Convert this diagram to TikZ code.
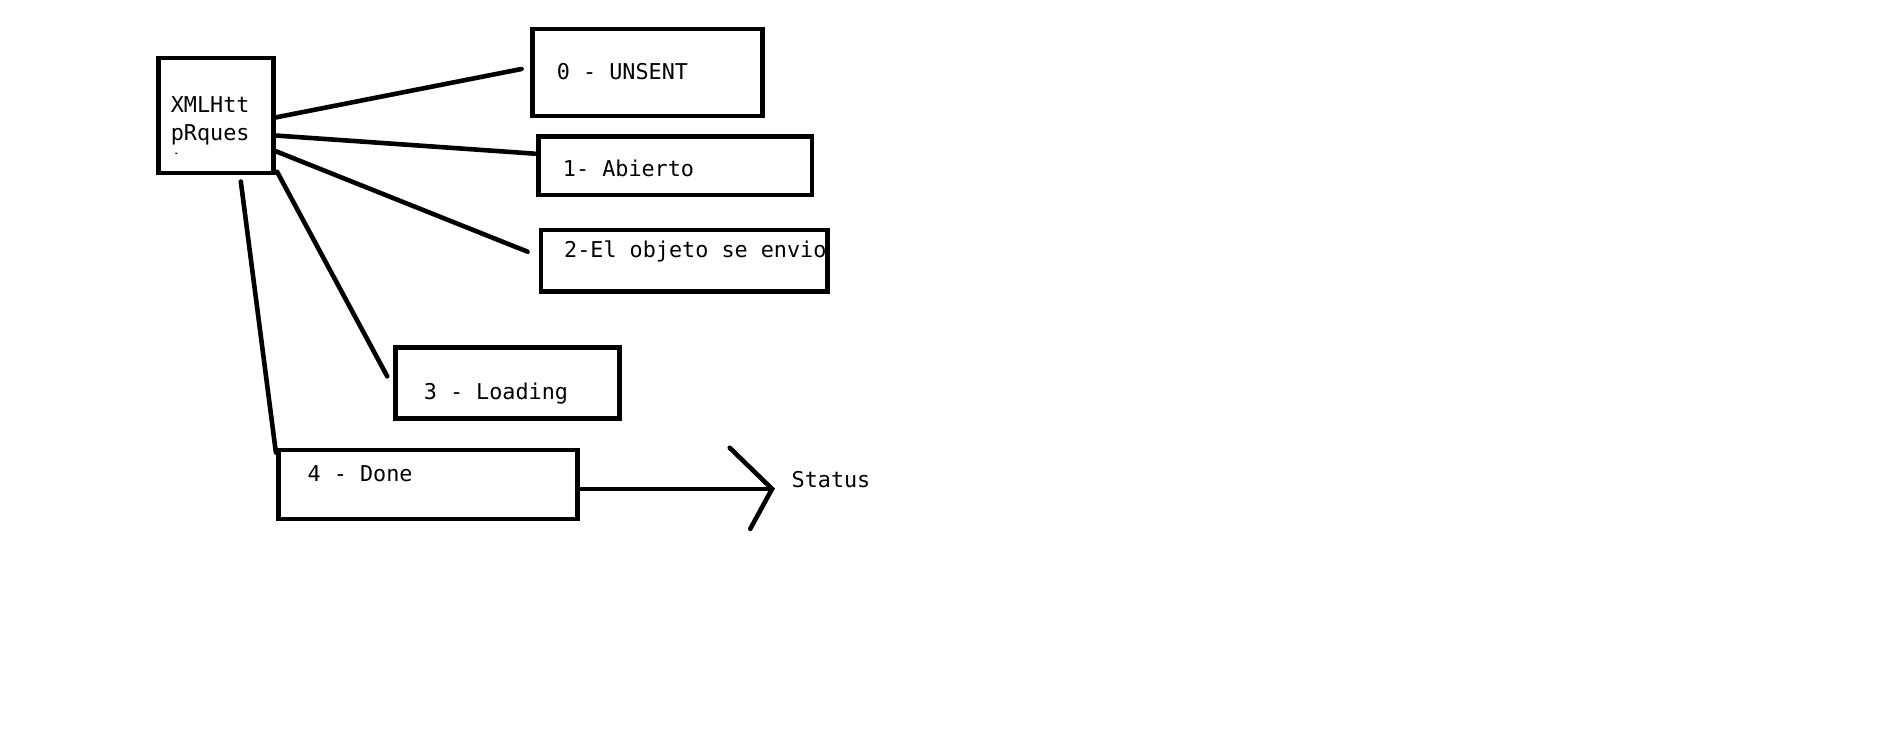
\documentclass[tikz,border=0pt]{standalone}
\usepackage{fontspec}
\setmonofont{DejaVu Sans Mono}
\begin{document}
\begin{tikzpicture}[x=1pt,y=-1pt,
  box/.style={draw=black,line width=3.8pt,fill=none},
  wire/.style={draw=black,line width=3.8pt,line cap=round},
  lbl/.style={anchor=base west,inner sep=0pt,font=\ttfamily\fontsize{18pt}{23pt}\selectfont,text=black}]
\useasboundingbox[fill=white] (0,0) rectangle (1561,606);
% boxes
\draw[box] (131,48) rectangle (226,143);
\node[inner sep=0pt] (xml) at (178.5,95.5) {};
\node[inner sep=0pt] (b0) at (535,60) {};
\draw[box] (440,24) rectangle (630,96);
\node[inner sep=0pt] (b1) at (558,137) {};
\draw[box] (445,113) rectangle (671,161);
\node[inner sep=0pt] (b2) at (565.5,215.5) {};
\draw[box] (447,190) rectangle (684,241);
\node[inner sep=0pt] (b3) at (419.5,316.5) {};
\draw[box] (327,287) rectangle (512,346);
\node[inner sep=0pt] (b4) at (353.5,400.5) {};
\draw[box] (230,372) rectangle (477,429);
% texts
\begin{scope}
\clip (135,50) rectangle (222,127);
\node[lbl] (t1) at (141,93) {XMLHtt};
\node[lbl] (t2) at (141,116) {pRques};
\node[lbl] (t3) at (141,139) {t};
\end{scope}
\node[lbl] (l0) at (460,66) {0 - UNSENT};
\node[lbl] (l1) at (465,146) {1- Abierto};
\begin{scope}
\clip (449,192) rectangle (682,239);
\node[lbl] (l2) at (466,213) {2-El objeto se envio};
\end{scope}
\node[lbl] (l3) at (350,330) {3 - Loading};
\node[lbl] (l4) at (254,398) {4 - Done};
\node[lbl] (st) at (654,403) {Status};
% connector end points
\coordinate (a0) at (228,97);   \coordinate (e0) at (431,57);
\coordinate (a1) at (228,112);  \coordinate (e1) at (442,127);
\coordinate (a2) at (228,125);  \coordinate (e2) at (436,208);
\coordinate (a3) at (229,142);  \coordinate (e3) at (320,311);
\coordinate (a4) at (199,150);  \coordinate (e4) at (228,374);
\coordinate (s0) at (479,404);  \coordinate (tip) at (638,404);
\coordinate (h1) at (603,370);  \coordinate (h2) at (620,437);
\draw[wire] (a0) -- (e0);
\draw[wire] (a1) -- (e1);
\draw[wire] (a2) -- (e2);
\draw[wire] (a3) -- (e3);
\draw[wire] (a4) -- (e4);
\draw[wire] (s0) -- (tip);
\draw[wire,line join=miter] (h1) -- (tip) -- (h2);
\end{tikzpicture}
\end{document}
